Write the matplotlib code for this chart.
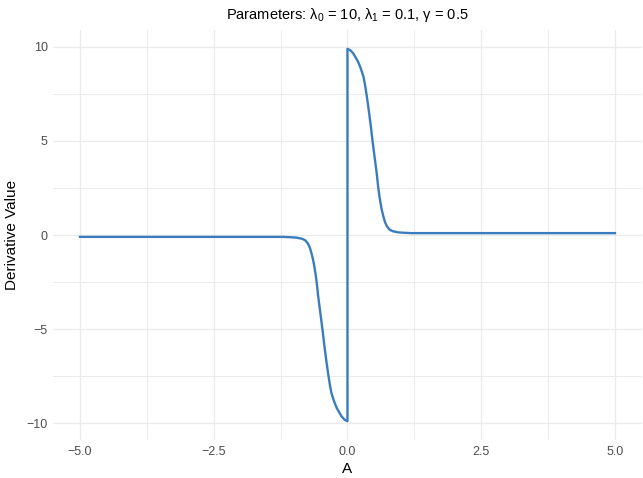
import numpy as np
import matplotlib
matplotlib.use("Agg")
import matplotlib.pyplot as plt

plt.rcParams['font.family'] = ['Liberation Sans', 'DejaVu Sans']
plt.rcParams['mathtext.fontset'] = 'custom'
plt.rcParams['mathtext.rm'] = 'Liberation Sans'
plt.rcParams['mathtext.it'] = 'Liberation Sans:italic'

# values
a_vals = [-5.0, -1.2, -1.05, -0.95, -0.85, -0.79, -0.74, -0.7, -0.67, -0.64,
          -0.615, -0.59, -0.57, -0.55, -0.525, -0.5, -0.48, -0.46, -0.44,
          -0.42, -0.39, -0.36, -0.33, -0.3, -0.25, -0.2, -0.15, -0.11,
          -0.05, 0.0,
          0.0, 0.05, 0.11, 0.15, 0.2, 0.25, 0.3, 0.33, 0.36, 0.39, 0.42,
          0.44, 0.46, 0.48, 0.5, 0.525, 0.55, 0.57, 0.59, 0.615, 0.64,
          0.67, 0.7, 0.74, 0.79, 0.85, 0.95, 1.05, 1.2, 5.0]
deriv = [-0.1, -0.1, -0.12, -0.14, -0.2, -0.28, -0.45, -0.7, -1.0, -1.35,
         -1.75, -2.2, -2.65, -3.2, -3.75, -4.3, -4.75, -5.2, -5.7,
         -6.15, -6.8, -7.4, -7.95, -8.4, -8.85, -9.2, -9.45, -9.65,
         -9.83, -9.9,
         9.9, 9.83, 9.65, 9.45, 9.2, 8.85, 8.4, 7.95, 7.4, 6.8, 6.15,
         5.7, 5.2, 4.75, 4.3, 3.75, 3.2, 2.65, 2.2, 1.75, 1.35,
         1.0, 0.7, 0.45, 0.28, 0.2, 0.14, 0.12, 0.1, 0.1]

x_ticks = [-5.0, -2.5, 0.0, 2.5, 5.0]
y_ticks = [-10, -5, 0, 5, 10]

fig = plt.figure(figsize=(6.43, 4.78), dpi=100)
ax = fig.add_axes([0.0828, 0.0795, 0.9152, 0.8577])

ax.plot(a_vals, deriv, color='#3A7CBD', linewidth=1.7,
        solid_joinstyle='round', antialiased=True)

ax.set_xlim(-5.5, 5.5)
ax.set_ylim(-10.9, 10.9)
ax.set_xticks(x_ticks)
ax.set_xticklabels(['\u22125.0', '\u22122.5', '0.0', '2.5', '5.0'])
ax.set_yticks(y_ticks)
ax.set_yticklabels(['\u221210', '\u22125', '0', '5', '10'])
ax.set_xticks([-3.75, -1.25, 1.25, 3.75], minor=True)
ax.set_yticks([-7.5, -2.5, 2.5, 7.5], minor=True)

ax.grid(True, which='major', color='#EBEBEB', linewidth=0.9)
ax.grid(True, which='minor', color='#EBEBEB', linewidth=0.7)
ax.set_axisbelow(True)
for s in ax.spines.values():
    s.set_visible(False)
ax.tick_params(which='both', length=0)
ax.tick_params(labelsize=9, labelcolor='#4D4D4D', pad=4)

ax.set_xlabel('A', fontsize=11, labelpad=3)
ax.set_ylabel('Derivative Value', fontsize=11, labelpad=5)
ax.set_title(r'Parameters: $\mathregular{\lambda_0}$ = 10, $\mathregular{\lambda_1}$ = 0.1, $\mathregular{\gamma}$ = 0.5',
             fontsize=10.5, pad=8)

fig.savefig('out.png', dpi=100)
